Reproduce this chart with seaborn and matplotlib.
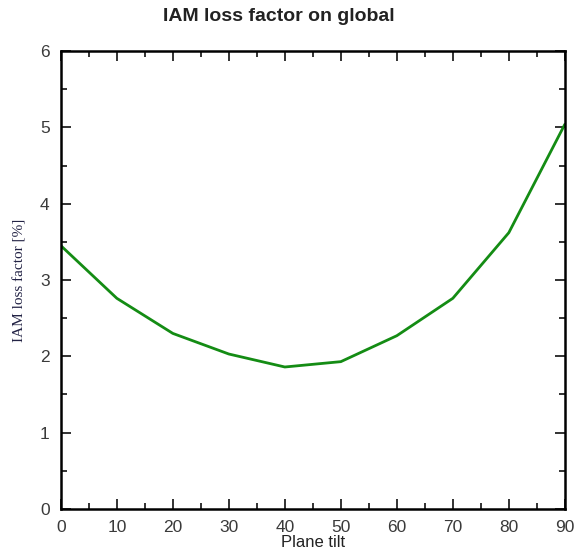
import numpy as np
import pandas as pd
import seaborn as sns
import matplotlib.pyplot as plt
from matplotlib.ticker import MultipleLocator

tilt = [0, 10, 20, 30, 40, 50, 60, 70, 80, 90]
loss = [3.45, 2.76, 2.30, 2.03, 1.86, 1.93, 2.27, 2.76, 3.62, 5.04]

df = pd.DataFrame({"Plane tilt": tilt, "IAM loss factor [%]": loss})

sns.set_theme(style="ticks")
plt.rcParams['font.family'] = ['Liberation Sans', 'DejaVu Sans']

fig = plt.figure(figsize=(5.74, 5.55), dpi=100)
ax = fig.add_axes([0.106, 0.083, 0.878, 0.825])

sns.lineplot(data=df, x="Plane tilt", y="IAM loss factor [%]", ax=ax,
             color="#148c14", linewidth=2.0)

ax.set_xlim(0, 90)
ax.set_ylim(0, 6)
ax.xaxis.set_major_locator(MultipleLocator(10))
ax.xaxis.set_minor_locator(MultipleLocator(5))
ax.yaxis.set_major_locator(MultipleLocator(1))
ax.yaxis.set_minor_locator(MultipleLocator(0.5))
ax.tick_params(which="both", direction="in", top=True, right=True,
               color="#222222", width=1.3, labelsize=12.5, labelcolor="#3a3a3a")
ax.tick_params(which="major", length=7)
ax.tick_params(which="minor", length=4)
ax.tick_params(axis="x", which="major", pad=8)
ax.tick_params(axis="y", which="major", pad=8)
for s in ax.spines.values():
    s.set_linewidth(1.8)
    s.set_color("black")
    s.set_visible(True)

ax.set_xlabel("Plane tilt", fontsize=12, color="#222222", labelpad=0)
ax.set_ylabel("IAM loss factor [%]", fontsize=11, family="Liberation Serif",
              color="#222244", labelpad=10)
fig.suptitle("IAM loss factor on global", x=0.486, y=0.985, fontsize=14,
             fontweight="bold", color="#222222")

fig.savefig("out.png", dpi=100)
